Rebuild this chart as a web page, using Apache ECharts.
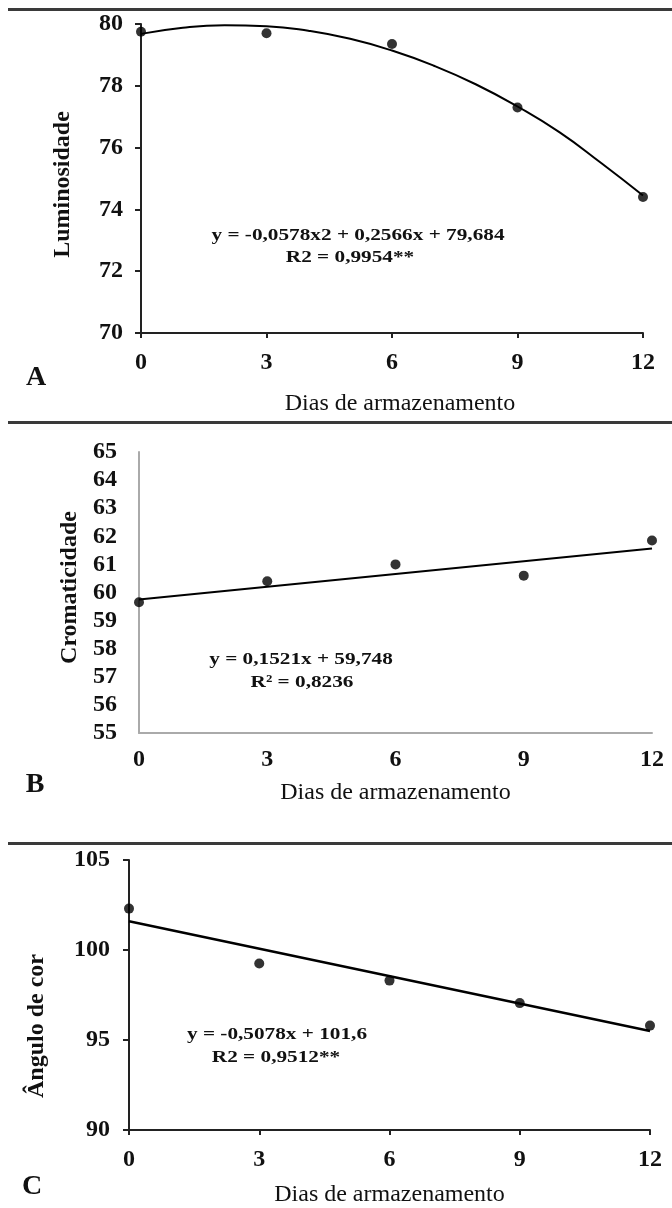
<!DOCTYPE html>
<html>
<head>
<meta charset="utf-8">
<script src="https://cdn.jsdelivr.net/npm/echarts@6/dist/echarts.min.js"></script>
<style>
html,body{margin:0;padding:0;background:#fff;}
#c{width:672px;height:1208px;}
</style>
</head>
<body>
<div id="c"></div>
<script>
// ---- data ----
const days = [0, 3, 6, 9, 12];
const xTicks = ['0', '3', '6', '9', '12'];
const luminosidade = [79.75, 79.7, 79.35, 77.3, 74.4];
const cromaticidade = [59.65, 60.4, 61.0, 60.6, 61.85];
const anguloCor = [102.3, 99.25, 98.3, 97.05, 95.8];
// fitted curves as drawn in the picture
const curveDaysA = [0, 1, 2, 3, 4, 5, 6, 7, 8, 9, 10, 11, 12];
const curveA = [79.68, 79.88, 79.96, 79.93, 79.78, 79.52, 79.14, 78.65, 78.05, 77.33, 76.5, 75.5, 74.45];
const lineDays = [0, 12];
const lineB = [59.75, 61.57];
const lineC = [101.6, 95.5];
const eqA = ['y = -0,0578x2 + 0,2566x + 79,684', 'R2 = 0,9954**'];
const eqB = ['y = 0,1521x + 59,748', 'R² = 0,8236'];
const eqC = ['y = -0,5078x + 101,6', 'R2 = 0,9512**'];

const FONT = '"Liberation Serif", "DejaVu Serif", serif';
const pairs = (xs, ys) => xs.map((x, i) => [x, ys[i]]);

const chart = echarts.init(document.getElementById('c'), null, {renderer: 'canvas'});

function xAx(grid, color, ticks, margin, gap, namePad) {
  return {
    type: 'value', gridIndex: grid, min: 0, max: 12, interval: 3,
    axisLine: {show: true, onZero: false, lineStyle: {color: color, width: 2}},
    axisTick: {show: ticks, length: 5, lineStyle: {color: color, width: 2}},
    splitLine: {show: false},
    axisLabel: {color: '#111', fontFamily: FONT, fontSize: 24, fontWeight: 'bold', margin: margin,
      formatter: v => xTicks[days.indexOf(v)] || ''},
    name: 'Dias de armazenamento', nameLocation: 'middle', nameGap: gap,
    nameTextStyle: {color: '#111', fontFamily: FONT, fontSize: 24, padding: namePad}
  };
}
function yAx(grid, min, max, interval, color, ticks, margin, name, gap, pad) {
  return {
    type: 'value', gridIndex: grid, min: min, max: max, interval: interval,
    axisLine: {show: true, onZero: false, lineStyle: {color: color, width: 2}},
    axisTick: {show: ticks, length: 6, lineStyle: {color: color, width: 2}},
    splitLine: {show: false},
    axisLabel: {color: '#111', fontFamily: FONT, fontSize: 24, fontWeight: 'bold', margin: margin},
    name: name, nameLocation: 'middle', nameGap: gap,
    nameTextStyle: {color: '#111', fontFamily: FONT, fontSize: 24, fontWeight: 'bold', padding: pad}
  };
}

const dot = {color: '#000'};
const trendStyle = {color: '#000', width: 2};

function eqText(text, cx, cy) {
  return {
    type: 'text', x: cx, y: cy, scaleX: 1.25, scaleY: 1,
    style: {text: text, x: 0, y: 0, align: 'center', verticalAlign: 'middle',
      font: 'bold 17px ' + FONT, fill: '#111'}
  };
}
function letter(text, cx, cy) {
  return {
    type: 'text', x: cx, y: cy,
    style: {text: text, x: 0, y: 0, align: 'center', verticalAlign: 'middle',
      font: 'bold 28px ' + FONT, fill: '#111'}
  };
}

chart.setOption({
  animation: false,
  backgroundColor: '#fff',
  grid: [
    {left: 141, right: 29, top: 24, height: 309},
    {left: 139, right: 20, top: 452, height: 281},
    {left: 129, right: 22, top: 860, height: 273}
  ],
  xAxis: [
    xAx(0, '#222', true, 18, 59, [0, 0, 0, 16]),
    xAx(1, '#aaa', false, 15, 48, [0, 0, 0, 0]),
    xAx(2, '#222', true, 18, 53, [0, 0, 0, 0])
  ],
  yAxis: [
    yAx(0, 70, 80, 2, '#222', true, 18, 'Luminosidade', 66, [0, 12, 0, 0]),
    yAx(1, 55, 65, 1, '#aaa', false, 22, 'Cromaticidade', 49, [0, 0, 0, 10]),
    yAx(2, 90, 105, 5, '#222', true, 19, 'Ângulo de cor', 80, [0, 62, 0, 0])
  ],
  series: [
    {type: 'line', xAxisIndex: 0, yAxisIndex: 0, data: pairs(curveDaysA, curveA), smooth: true,
      showSymbol: false, lineStyle: trendStyle, z: 2},
    {type: 'scatter', xAxisIndex: 0, yAxisIndex: 0, data: pairs(days, luminosidade), symbolSize: 10, itemStyle: dot, z: 3},
    {type: 'line', xAxisIndex: 1, yAxisIndex: 1, data: pairs(lineDays, lineB),
      showSymbol: false, lineStyle: trendStyle, z: 2},
    {type: 'scatter', xAxisIndex: 1, yAxisIndex: 1, data: pairs(days, cromaticidade), symbolSize: 10, itemStyle: dot, z: 3},
    {type: 'line', xAxisIndex: 2, yAxisIndex: 2, data: pairs(lineDays, lineC),
      showSymbol: false, lineStyle: {color: '#000', width: 2.5}, z: 2},
    {type: 'scatter', xAxisIndex: 2, yAxisIndex: 2, data: pairs(days, anguloCor), symbolSize: 10, itemStyle: dot, z: 3}
  ],
  graphic: [
    {type: 'rect', left: 8, top: 8, shape: {width: 664, height: 3}, style: {fill: '#3a3a3a'}},
    {type: 'rect', left: 8, top: 421, shape: {width: 664, height: 3}, style: {fill: '#3a3a3a'}},
    {type: 'rect', left: 8, top: 842, shape: {width: 664, height: 3}, style: {fill: '#3a3a3a'}},
    letter('A', 36, 378),
    letter('B', 35, 785),
    letter('C', 32, 1187),
    eqText(eqA[0], 358, 236),
    eqText(eqA[1], 350, 258),
    eqText(eqB[0], 301, 660),
    eqText(eqB[1], 302, 683),
    eqText(eqC[0], 277, 1035),
    eqText(eqC[1], 276, 1058)
  ]
});
</script>
</body>
</html>
